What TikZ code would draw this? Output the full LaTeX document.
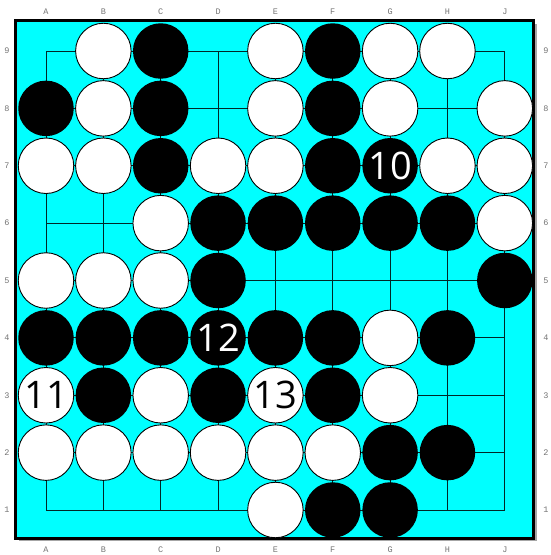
\documentclass[tikz,border=0pt]{standalone}
\usepackage{fontspec}
\newfontfamily\numfont{Open Sans}
\newfontfamily\labfont{Liberation Mono}
\definecolor{boardc}{RGB}{0,255,255}
\begin{document}
\begin{tikzpicture}[x=1pt,y=-1pt,
  stone/.style={circle,minimum size=55.5pt,inner sep=0pt,outer sep=0pt},
  wst/.style={stone,draw=black,line width=0.9pt,fill=white},
  bst/.style={stone,fill=black},
  gridline/.style={draw=black!85!boardc,line width=0.9pt},
  lab/.style={font=\labfont\fontsize{8.5}{8.5}\selectfont,text=black!55,inner sep=0pt},
  num/.style={font=\numfont\fontsize{38}{38}\selectfont}]
\useasboundingbox (0,0) rectangle (551,555);
% board shadow and frame
\fill[black!35] (18.5,23.5) rectangle (536.5,541);
\draw[line width=3pt,fill=boardc] (15.5,20.5) rectangle (533.5,538);
% intersections
\foreach \c [count=\i from 0] in {A,B,C,D,E,F,G,H,J}{
  \foreach \r in {1,...,9}{
    \coordinate (\c\r) at ({46+57.35*\i},{51+57.375*(9-\r)});
  }
}
% grid
\foreach \r in {1,...,9}{ \draw[gridline] (A\r) -- (J\r); }
\foreach \c in {A,B,C,D,E,F,G,H,J}{ \draw[gridline] (\c9) -- (\c1); }
% coordinate labels
\foreach \c [count=\i from 0] in {A,B,C,D,E,F,G,H,J}{
  \node[lab] (top\c) at ({46+57.35*\i},12) {\c};
  \node[lab] (bot\c) at ({46+57.35*\i},550) {\c};
}
\foreach \r in {1,...,9}{
  \node[lab] (left\r) at (7,{51+57.375*(9-\r)}) {\r};
  \node[lab] (right\r) at (546,{51+57.375*(9-\r)}) {\r};
}
% stones
\foreach \p in {B9,E9,G9,H9,B8,E8,G8,J8,A7,B7,D7,E7,H7,J7,C6,J6,A5,B5,C5,G4,C3,G3,A2,B2,C2,D2,E2,F2,E1}{
  \node[wst] (s\p) at (\p) {};
}
\foreach \p in {C9,F9,A8,C8,F8,C7,F7,D6,E6,F6,G6,H6,D5,J5,A4,B4,C4,E4,F4,H4,B3,D3,F3,G2,H2,F1,G1}{
  \node[bst] (s\p) at (\p) {};
}
% numbered stones
\node[bst,num,text=white] (sG7) at (G7) {10};
\node[wst,num,text=black] (sA3) at (A3) {11};
\node[bst,num,text=white] (sD4) at (D4) {12};
\node[wst,num,text=black] (sE3) at (E3) {13};
\end{tikzpicture}
\end{document}
